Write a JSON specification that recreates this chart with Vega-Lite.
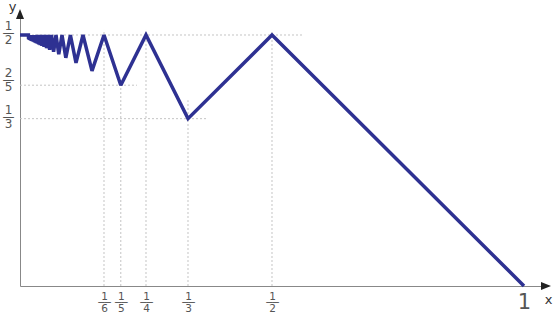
{
  "$schema": "https://vega.github.io/schema/vega-lite/v6.json",
  "autosize": {"type": "none"},
  "padding": {"left": 20, "top": 14, "right": 9, "bottom": 33},
  "width": 525,
  "height": 272,
  "background": "white",
  "config": {"view": {"stroke": null}, "font": "DejaVu Sans"},
  "encoding": {
    "x": {
      "field": "x", "type": "quantitative",
      "scale": {"domain": [0, 1.0417], "nice": false, "zero": false},
      "axis": {
        "values": [0.166667, 0.2, 0.25, 0.333333, 0.5, 1],
        "labelExpr": "datum.value > 0.9 ? '1' : ['1', '──', '' + round(1 / datum.value)]",
        "labelFontSize": {"condition": {"test": "datum.value > 0.9", "value": 21}, "value": 10.5},
        "labelFont": "DejaVu Sans",
        "labelLineHeight": 6,
        "labelBaseline": "top",
        "labelAlign": "center",
        "labelPadding": 5,
        "labelColor": "#555",
        "labelOverlap": false,
        "labelBound": false,
        "labelFlush": false,
        "ticks": false,
        "tickSize": 0,
        "grid": false,
        "domainColor": "#888",
        "domainWidth": 1,
        "title": "x",
        "titleFont": "DejaVu Sans",
        "titleFontSize": 13,
        "titleFontWeight": "normal",
        "titleColor": "#333",
        "titleAlign": "center",
        "titleBaseline": "middle",
        "titleAngle": 0,
        "titleX": 528,
        "titleY": 13
      }
    },
    "y": {
      "field": "y", "type": "quantitative",
      "scale": {"domain": [0, 0.5418], "nice": false, "zero": false},
      "axis": {
        "values": [0.333333, 0.4, 0.5],
        "labelExpr": "datum.value > 0.45 ? ['1', '—', '2'] : datum.value > 0.37 ? ['2', '—', '5'] : ['1', '—', '3']",
        "labelFontSize": 12,
        "labelFont": "DejaVu Sans",
        "labelLineHeight": 7,
        "labelBaseline": "middle",
        "labelAlign": "center",
        "labelPadding": 12,
        "labelOffset": {"condition": {"test": "datum.value > 0.37 && datum.value < 0.45", "value": -13}, "value": -9},
        "labelColor": "#555",
        "labelOverlap": false,
        "labelBound": false,
        "labelFlush": false,
        "ticks": false,
        "tickSize": 0,
        "grid": false,
        "domainColor": "#888",
        "domainWidth": 1,
        "title": "y",
        "titleFont": "DejaVu Sans",
        "titleFontSize": 13,
        "titleFontWeight": "normal",
        "titleColor": "#333",
        "titleAlign": "center",
        "titleBaseline": "middle",
        "titleAngle": 0,
        "titleX": -8,
        "titleY": -8
      }
    }
  },
  "layer": [
    {
      "data": {"values": [
        {"x": 0.166667, "y": 0, "y2": 0.51},
        {"x": 0.2, "y": 0, "y2": 0.415},
        {"x": 0.25, "y": 0, "y2": 0.51},
        {"x": 0.333333, "y": 0, "y2": 0.37},
        {"x": 0.5, "y": 0, "y2": 0.51}
      ]},
      "mark": {"type": "rule", "color": "#c4c4c4", "strokeWidth": 1, "strokeDash": [2, 2]},
      "encoding": {"y2": {"field": "y2"}}
    },
    {
      "data": {"values": [
        {"x": 0, "x2": 0.56, "y": 0.5},
        {"x": 0, "x2": 0.232, "y": 0.4},
        {"x": 0, "x2": 0.373, "y": 0.333333}
      ]},
      "mark": {"type": "rule", "color": "#c4c4c4", "strokeWidth": 1, "strokeDash": [2, 2]},
      "encoding": {"x2": {"field": "x2"}}
    },
    {
      "data": {"values": [
        {"x": 1, "y": 0},
        {"x": 0.5, "y": 0.5},
        {"x": 0.333333, "y": 0.333333},
        {"x": 0.25, "y": 0.5},
        {"x": 0.2, "y": 0.4},
        {"x": 0.166667, "y": 0.5},
        {"x": 0.142857, "y": 0.428571},
        {"x": 0.125, "y": 0.5},
        {"x": 0.111111, "y": 0.444444},
        {"x": 0.1, "y": 0.5},
        {"x": 0.090909, "y": 0.454545},
        {"x": 0.083333, "y": 0.5},
        {"x": 0.076923, "y": 0.461538},
        {"x": 0.071429, "y": 0.5},
        {"x": 0.066667, "y": 0.466667},
        {"x": 0.0625, "y": 0.5},
        {"x": 0.058824, "y": 0.470588},
        {"x": 0.055556, "y": 0.5},
        {"x": 0.052632, "y": 0.473684},
        {"x": 0.05, "y": 0.5},
        {"x": 0.047619, "y": 0.47619},
        {"x": 0.045455, "y": 0.5},
        {"x": 0.043478, "y": 0.478261},
        {"x": 0.041667, "y": 0.5},
        {"x": 0.04, "y": 0.48},
        {"x": 0.038462, "y": 0.5},
        {"x": 0.037037, "y": 0.481481},
        {"x": 0.035714, "y": 0.5},
        {"x": 0.034483, "y": 0.482759},
        {"x": 0.033333, "y": 0.5},
        {"x": 0.032258, "y": 0.483871},
        {"x": 0.03125, "y": 0.5},
        {"x": 0.030303, "y": 0.484848},
        {"x": 0.029412, "y": 0.5},
        {"x": 0.028571, "y": 0.485714},
        {"x": 0.027778, "y": 0.5},
        {"x": 0.027027, "y": 0.486486},
        {"x": 0.026316, "y": 0.5},
        {"x": 0.025641, "y": 0.487179},
        {"x": 0.025, "y": 0.5},
        {"x": 0.02439, "y": 0.487805},
        {"x": 0.02381, "y": 0.5},
        {"x": 0.023256, "y": 0.488372},
        {"x": 0.022727, "y": 0.5},
        {"x": 0.022222, "y": 0.488889},
        {"x": 0.021739, "y": 0.5},
        {"x": 0.021277, "y": 0.489362},
        {"x": 0.020833, "y": 0.5},
        {"x": 0.020408, "y": 0.489796},
        {"x": 0.02, "y": 0.5},
        {"x": 0.019608, "y": 0.490196},
        {"x": 0.019231, "y": 0.5},
        {"x": 0.018868, "y": 0.490566},
        {"x": 0.018519, "y": 0.5},
        {"x": 0.018182, "y": 0.490909},
        {"x": 0.017857, "y": 0.5},
        {"x": 0.017544, "y": 0.491228},
        {"x": 0.017241, "y": 0.5},
        {"x": 0.016949, "y": 0.491525},
        {"x": 0.016667, "y": 0.5},
        {"x": 0, "y": 0.5}
      ]},
      "mark": {"type": "line", "color": "#2e3192", "strokeWidth": 3.5, "strokeJoin": "miter", "strokeMiterLimit": 2.5}
    },
    {
      "data": {"values": [{"x": 0, "y": 0.5418}]},
      "mark": {"type": "point", "shape": "M0,-1L-0.8,1L0.8,1Z", "size": 100, "filled": true, "color": "#222", "opacity": 1}
    },
    {
      "data": {"values": [{"x": 1.0437, "y": 0}]},
      "mark": {"type": "point", "shape": "M1,0L-1,-0.8L-1,0.8Z", "size": 100, "filled": true, "color": "#222", "opacity": 1}
    }
  ]
}
